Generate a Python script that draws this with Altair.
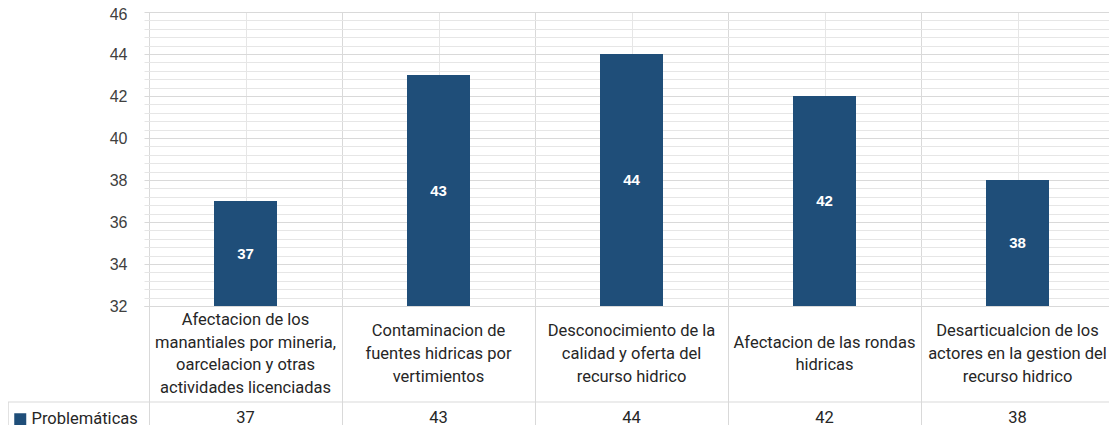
import altair as alt
import pandas as pd

categorias = [
    "Afectacion de los\nmanantiales por mineria,\noarcelacion y otras\nactividades licenciadas",
    "Contaminacion de\nfuentes hidricas por\nvertimientos",
    "Desconocimiento de la\ncalidad y oferta del\nrecurso hidrico",
    "Afectacion de las rondas\nhidricas",
    "Desarticualcion de los\nactores en la gestion del\nrecurso hidrico",
]
valores = [37, 43, 44, 42, 38]
serie = "Problemáticas"
y_min, y_max = 32, 46
y_ticks = [32, 34, 36, 38, 40, 42, 44, 46]
y_minor = [round(32 + 0.4 * k, 1) for k in range(36)]
x_ticks = [k * 0.5 for k in range(11)]

BLUE = "#1f4e79"
MAJOR = "#d9d9d9"
MINOR = "#e6e6e6"
TXT = "#262626"
CAT_FONT = "Roboto"
CAT_SIZE = 16.5
LINE_H = 22.7

df = pd.DataFrame({
    "categoria": categorias,
    "valor": valores,
    "pos": list(range(len(categorias))),
    "serie": [serie] * len(categorias),
})

W, H = 965, 294
xscale = alt.Scale(domain=[0, len(categorias)], range=[0, 975], nice=False, zero=False)
yscale = alt.Scale(domain=[y_min, y_max], nice=False, zero=False)

is_major_y = "abs(datum.value/2 - round(datum.value/2)) < 0.01"
is_int_x = "abs(datum.value - round(datum.value)) < 0.01"

xaxis = alt.Axis(
    values=x_ticks, tickCount=200, labels=False, title=None,
    grid=True,
    gridColor={"condition": {"test": is_int_x, "value": MAJOR}, "value": MINOR},
    ticks=True, tickSize=127,
    tickColor={"condition": {"test": is_int_x, "value": MAJOR}, "value": "transparent"},
    domain=True, domainColor=MAJOR,
)
yaxis = alt.Axis(
    values=y_minor, tickCount=200, title=None, grid=True,
    gridColor={"condition": {"test": is_major_y, "value": MAJOR}, "value": MINOR},
    labelExpr=f"{is_major_y} ? format(datum.value, 'd') : ''",
    labelOffset={"condition": {"test": f"datum.value >= {y_max - 0.1}", "value": 2}, "value": 0},
    ticks=False, domain=False, labelPadding=17, labelFontSize=16,
    labelFont="Liberation Sans", labelColor="#404040",
    labelOverlap=False, labelFlush=False,
)

base = alt.Chart(df).transform_calculate(
    centro="datum.pos + 0.5",
    medio=f"(datum.valor + {y_min}) / 2",
    ylab=f"342 - (length(split(datum.categoria, '\\n')) - 1) * {LINE_H / 2}",
)

bars = base.mark_bar(size=63).encode(
    x=alt.X("centro:Q", scale=xscale, axis=xaxis),
    y=alt.Y("valor:Q", scale=yscale, axis=yaxis),
    y2=alt.datum(y_min),
    color=alt.Color(
        "serie:N",
        scale=alt.Scale(range=[BLUE]),
        legend=alt.Legend(
            orient="none", legendX=-132, legendY=399, title=None,
            symbolType="square", symbolSize=144, symbolStrokeWidth=0,
            symbolOpacity=1, labelFontSize=CAT_SIZE, labelFont=CAT_FONT,
            labelColor=TXT, labelOffset=3, padding=0,
        ),
    ),
)

bar_labels = base.mark_text(
    font="Liberation Sans", fontWeight="bold", fontSize=15, color="white",
    baseline="middle", align="center",
).encode(
    x=alt.X("centro:Q", scale=xscale),
    y=alt.Y("medio:Q", scale=yscale),
    text=alt.Text("valor:Q"),
)

cat_labels = base.mark_text(
    font=CAT_FONT, fontSize=CAT_SIZE, color=TXT, lineBreak="\n", lineHeight=LINE_H,
    baseline="middle", align="center",
).encode(
    x=alt.X("centro:Q", scale=xscale),
    y=alt.Y("ylab:Q", scale=None),
    text="categoria:N",
)

table_vals = base.mark_text(
    font=CAT_FONT, fontSize=CAT_SIZE, color=TXT, baseline="middle", align="center",
).encode(
    x=alt.X("centro:Q", scale=xscale),
    y=alt.value(406),
    text=alt.Text("valor:Q"),
)

table_hline = alt.Chart(df.head(1)).mark_rule(color=MAJOR, strokeWidth=1).encode(
    x=alt.value(-136), x2=alt.value(975), y=alt.value(390),
)
table_vline = alt.Chart(df.head(1)).mark_rule(color=MAJOR, strokeWidth=1.5).encode(
    x=alt.value(-136), y=alt.value(390), y2=alt.value(440),
)

chart = alt.layer(
    bars, bar_labels, cat_labels, table_vals, table_hline, table_vline
).properties(
    width=W, height=H,
    padding={"left": 136, "top": 4, "right": 0, "bottom": 119},
    autosize=alt.AutoSizeParams(type="none"),
    background="white",
).configure_view(stroke=None)

chart.save("out.html", embed_options={"renderer": "svg", "actions": False})
